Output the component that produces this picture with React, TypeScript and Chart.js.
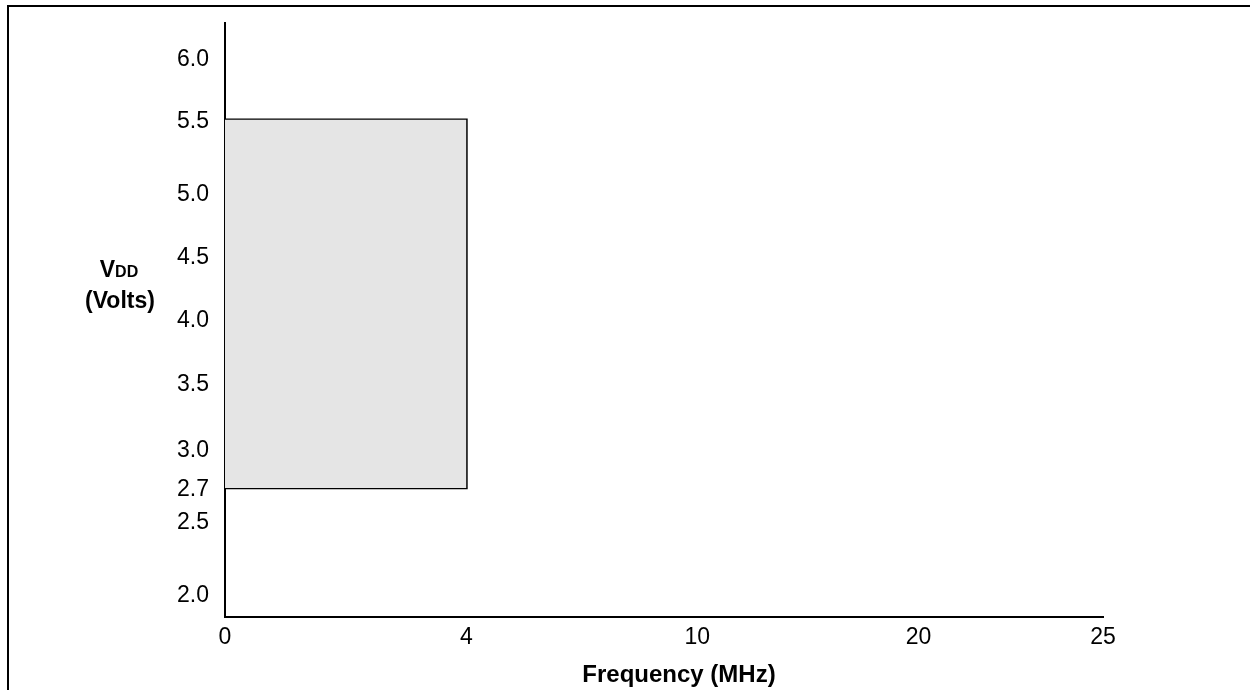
import React, { useEffect, useRef } from "react";
import { Chart, registerables } from "chart.js";

Chart.register(...registerables);

// Axis tick labels (the reference axes are not linear, so each tick has its own stop on the axis, 0..100)
const xTickValues = [0, 4, 10, 20, 25]; // MHz
const xAxisStops = [0, 27.5, 53.8, 79.0, 100];
const yTickValues = [2.0, 2.5, 2.7, 3.0, 3.5, 4.0, 4.5, 5.0, 5.5, 6.0]; // Volts
const yAxisStops = [4.0, 16.2, 21.7, 28.3, 39.4, 50.3, 60.9, 71.4, 83.7, 94.1];

// Operating region
const regionFreq = [0, 4]; // MHz
const regionVdd = [2.7, 5.5]; // Volts

const xTitle = "Frequency (MHz)";
const yTitleMain = "V";
const yTitleSub = "DD";
const yTitleUnit = "(Volts)";

const FONT = "'Liberation Sans', Arial, Helvetica, sans-serif";

function warp(v: number, vals: number[], stops: number[]): number {
  let i = 0;
  while (i < vals.length - 2 && v > vals[i + 1]) i++;
  const t = (v - vals[i]) / (vals[i + 1] - vals[i]);
  return stops[i] + t * (stops[i + 1] - stops[i]);
}
const wx = (v: number) => warp(v, xTickValues, xAxisStops);
const wy = (v: number) => warp(v, yTickValues, yAxisStops);

function labelFor(value: number, stops: number[], vals: number[], digits: number) {
  const i = stops.findIndex((s) => Math.abs(s - value) < 1e-6);
  return i < 0 ? "" : vals[i].toFixed(digits);
}

const decorPlugin = {
  id: "decor",
  afterDraw(chart: any) {
    const ctx = chart.ctx as CanvasRenderingContext2D;
    ctx.save();
    ctx.fillStyle = "#000";
    // outer frame (left + top)
    ctx.fillRect(7, 5, 2, 700);
    ctx.fillRect(7, 5, 1300, 2);
    // x title
    ctx.font = `bold 24px ${FONT}`;
    ctx.textAlign = "center";
    ctx.textBaseline = "alphabetic";
    ctx.fillText(xTitle, 679, 682);
    // y title
    ctx.font = `bold 23px ${FONT}`;
    const wV = ctx.measureText(yTitleMain).width;
    ctx.font = `bold 16px ${FONT}`;
    const wD = ctx.measureText(yTitleSub).width;
    const startX = 119 - (wV + wD) / 2;
    ctx.textAlign = "left";
    ctx.font = `bold 23px ${FONT}`;
    ctx.fillText(yTitleMain, startX, 277);
    ctx.font = `bold 16px ${FONT}`;
    ctx.fillText(yTitleSub, startX + wV, 277);
    ctx.textAlign = "center";
    ctx.font = `bold 23px ${FONT}`;
    ctx.fillText(yTitleUnit, 120, 308);
    ctx.restore();
  },
};

export default function App() {
  const ref = useRef<HTMLCanvasElement | null>(null);
  useEffect(() => {
    if (!ref.current) return;
    const [f0, f1] = regionFreq;
    const [v0, v1] = regionVdd;
    const chart = new Chart(ref.current, {
      type: "line",
      data: {
        datasets: [
          {
            label: "fill",
            data: [
              { x: wx(f0), y: wy(v1) },
              { x: wx(f1), y: wy(v1) },
            ],
            fill: { value: wy(v0) } as any,
            backgroundColor: "#e5e5e5",
            borderWidth: 0,
            pointRadius: 0,
          },
          {
            label: "outline",
            data: [
              { x: wx(f0), y: wy(v1) },
              { x: wx(f1), y: wy(v1) },
              { x: wx(f1), y: wy(v0) },
              { x: wx(f0), y: wy(v0) },
            ],
            fill: false,
            borderColor: "#000",
            borderWidth: 2.5,
            pointRadius: 0,
            tension: 0,
          },
        ],
      },
      options: {
        animation: false,
        responsive: true,
        maintainAspectRatio: false,
        layout: { padding: { left: 8, top: 23, right: 147, bottom: 0 } },
        plugins: { legend: { display: false }, tooltip: { enabled: false } },
        scales: {
          x: {
            type: "linear",
            min: 0,
            max: 100,
            grid: { display: false, drawTicks: false },
            border: { display: true, color: "#000", width: 2 },
            ticks: {
              color: "#000",
              font: { family: FONT, size: 23 },
              padding: 7,
              maxRotation: 0,
              autoSkip: false,
              callback: (v: any) => labelFor(Number(v), xAxisStops, xTickValues, 0),
            },
            afterBuildTicks: (scale: any) => {
              scale.ticks = xAxisStops.map((s) => ({ value: s }));
            },
            afterFit: (scale: any) => {
              scale.height = 73;
              scale.paddingLeft = 0;
              scale.paddingRight = 0;
            },
          },
          y: {
            type: "linear",
            min: 0,
            max: 100,
            grid: { display: false, drawTicks: false },
            border: { display: true, color: "#000", width: 2 },
            ticks: {
              color: "#000",
              font: { family: FONT, size: 23 },
              padding: 16,
              labelOffset: 2,
              autoSkip: false,
              callback: (v: any) => labelFor(Number(v), yAxisStops, yTickValues, 1),
            },
            afterBuildTicks: (scale: any) => {
              scale.ticks = yAxisStops.map((s) => ({ value: s }));
            },
            afterFit: (scale: any) => {
              scale.width = 217;
              scale.paddingTop = 0;
              scale.paddingBottom = 0;
            },
          },
        },
      },
      plugins: [decorPlugin],
    });
    return () => chart.destroy();
  }, []);
  return (
    <div
      style={{
        position: "fixed",
        left: 0,
        top: 0,
        width: 1250,
        height: 690,
        background: "#fff",
      }}
    >
      <canvas ref={ref} />
    </div>
  );
}
